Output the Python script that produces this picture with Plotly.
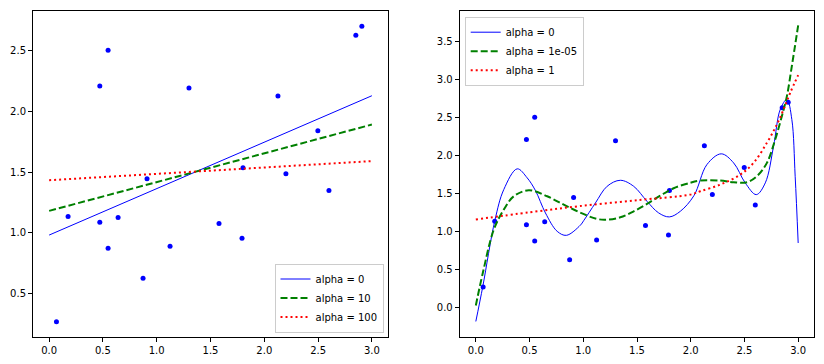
import plotly.graph_objects as go

# scatter data (shared by both panels)
pts_x = [0.068, 0.176, 0.471, 0.471, 0.548, 0.548, 0.641, 0.873, 0.910, 1.124,
         1.300, 1.579, 1.793, 1.802, 2.127, 2.201, 2.498, 2.601, 2.851, 2.907]
pts_y = [0.264, 1.133, 2.210, 1.084, 2.505, 0.870, 1.125, 0.623, 1.445, 0.886,
         2.193, 1.075, 0.952, 1.536, 2.127, 1.486, 1.840, 1.347, 2.629, 2.703]

# left panel: linear fits
lin_x = [0.0, 3.0]
lin_a0 = [0.979, 2.130]
lin_a10 = [1.179, 1.892]
lin_a100 = [1.432, 1.590]
left_names = ["alpha = 0", "alpha = 10", "alpha = 100"]

# right panel: polynomial fits
b_x = [0.0, 0.065, 0.177, 0.26, 0.385, 0.478, 0.555, 0.648, 0.757, 0.843, 0.973, 1.004,
       1.113, 1.222, 1.345, 1.469, 1.593, 1.701, 1.801, 1.903, 2.03, 2.151, 2.284, 2.399,
       2.507, 2.610, 2.694, 2.771, 2.833, 2.895, 2.941, 2.972, 3.0]
b_y = [-0.19, 0.272, 1.14, 1.549, 1.823, 1.704, 1.536, 1.241, 0.999, 0.946, 1.08, 1.14,
       1.373, 1.593, 1.672, 1.593, 1.395, 1.242, 1.189, 1.263, 1.47, 1.88, 2.021, 1.902,
       1.638, 1.483, 1.638, 2.121, 2.606, 2.738, 2.474, 1.725, 0.845]
g_x = [0.0, 0.065, 0.167, 0.26, 0.353, 0.493, 0.664, 0.818, 0.958, 1.128, 1.222, 1.345,
       1.469, 1.593, 1.717, 1.841, 1.996, 2.089, 2.275, 2.399, 2.523, 2.616, 2.709, 2.786,
       2.848, 2.895, 2.941, 3.0]
g_y = [0.02, 0.449, 1.02, 1.285, 1.461, 1.54, 1.461, 1.351, 1.255, 1.162, 1.153, 1.184,
       1.263, 1.360, 1.470, 1.567, 1.640, 1.668, 1.668, 1.646, 1.646, 1.725, 1.902, 2.21,
       2.518, 2.782, 3.178, 3.716]
r_x = [0.0, 0.5, 0.958, 1.5, 1.996, 2.089, 2.275, 2.461, 2.585, 2.709, 2.802, 2.864, 2.926, 3.0]
r_y = [1.155, 1.25, 1.33, 1.41, 1.483, 1.527, 1.615, 1.747, 1.902, 2.166, 2.408, 2.606, 2.827, 3.06]
right_names = ["alpha = 0", "alpha = 1e-05", "alpha = 1"]

x_ticks = [0.0, 0.5, 1.0, 1.5, 2.0, 2.5, 3.0]
left_yticks = [0.5, 1.0, 1.5, 2.0, 2.5]
right_yticks = [0.0, 0.5, 1.0, 1.5, 2.0, 2.5, 3.0, 3.5]

BLUE = "#0000ff"
GREEN = "#008000"
RED = "#ff0000"
FONT = "DejaVu Sans"

fig = go.Figure()

# left panel
fig.add_trace(go.Scatter(x=pts_x, y=pts_y, mode="markers", marker=dict(color=BLUE, size=5),
                         showlegend=False, xaxis="x", yaxis="y"))
fig.add_trace(go.Scatter(x=lin_x, y=lin_a0, mode="lines", name=left_names[0],
                         line=dict(color=BLUE, width=1), xaxis="x", yaxis="y", legend="legend"))
fig.add_trace(go.Scatter(x=lin_x, y=lin_a10, mode="lines", name=left_names[1],
                         line=dict(color=GREEN, width=2, dash="7px,3px"), xaxis="x", yaxis="y", legend="legend"))
fig.add_trace(go.Scatter(x=lin_x, y=lin_a100, mode="lines", name=left_names[2],
                         line=dict(color=RED, width=2, dash="2px,3px"), xaxis="x", yaxis="y", legend="legend"))

# right panel
fig.add_trace(go.Scatter(x=pts_x, y=pts_y, mode="markers", marker=dict(color=BLUE, size=5),
                         showlegend=False, xaxis="x2", yaxis="y2"))
fig.add_trace(go.Scatter(x=b_x, y=b_y, mode="lines", name=right_names[0], line_shape="spline",
                         line=dict(color=BLUE, width=1), xaxis="x2", yaxis="y2", legend="legend2"))
fig.add_trace(go.Scatter(x=g_x, y=g_y, mode="lines", name=right_names[1], line_shape="spline",
                         line=dict(color=GREEN, width=2, dash="7px,3px"), xaxis="x2", yaxis="y2", legend="legend2"))
fig.add_trace(go.Scatter(x=r_x, y=r_y, mode="lines", name=right_names[2], line_shape="spline",
                         line=dict(color=RED, width=2, dash="2px,3px"), xaxis="x2", yaxis="y2", legend="legend2"))

# page body has an 8px margin, so the figure is drawn 8px smaller and offset
OFF = 8
W, H = 824 - OFF, 364 - OFF
ax_common = dict(showline=True, mirror=True, linecolor="black", linewidth=1, ticks="outside",
                 ticklen=4, tickcolor="black", showgrid=False, zeroline=False, automargin=False,
                 tickfont=dict(family=FONT, size=10, color="black"), tickformat=".1f")

ydom = [1 - (337 - OFF) / H, 1 - (11 - OFF) / H]
fig.update_layout(
    width=W, height=H, margin=dict(l=0, r=0, t=0, b=0, autoexpand=False),
    paper_bgcolor="white", plot_bgcolor="white",
    font=dict(family=FONT, size=10, color="black"),
    xaxis=dict(domain=[(33 - OFF) / W, (388 - OFF) / W], range=[-0.15, 3.15], tickvals=x_ticks,
               anchor="y", **ax_common),
    yaxis=dict(domain=ydom, range=[0.137, 2.83], tickvals=left_yticks, anchor="x", **ax_common),
    xaxis2=dict(domain=[(459.7 - OFF) / W, (814.3 - OFF) / W], range=[-0.15, 3.15], tickvals=x_ticks,
                anchor="y2", **ax_common),
    yaxis2=dict(domain=ydom, range=[-0.395, 3.905], tickvals=right_yticks, anchor="x2", **ax_common),
    legend=dict(x=(383.5 - OFF) / W, y=1 - (332.5 - OFF) / H, xanchor="right", yanchor="bottom",
                bgcolor="white", bordercolor="#cccccc", borderwidth=1,
                font=dict(family=FONT, size=10), tracegroupgap=0, itemwidth=30),
    legend2=dict(x=(464.7 - OFF) / W, y=1 - (16.7 - OFF) / H, xanchor="left", yanchor="top",
                 bgcolor="white", bordercolor="#cccccc", borderwidth=1,
                 font=dict(family=FONT, size=10), tracegroupgap=0, itemwidth=30),
)

fig.write_html("out.html")
